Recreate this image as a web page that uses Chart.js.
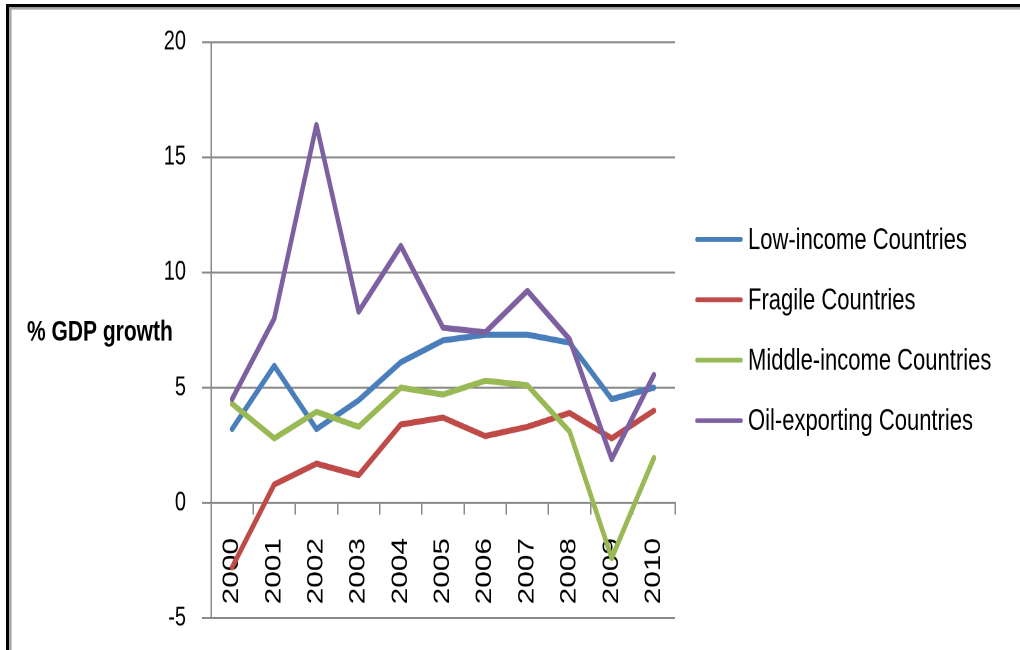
<!DOCTYPE html>
<html>
<head>
<meta charset="utf-8">
<script src="https://cdn.jsdelivr.net/npm/chart.js@4.4.1/dist/chart.umd.min.js"></script>
<style>
  html, body { margin: 0; padding: 0; background: #fff; }
  /* the source picture is a vertically stretched screenshot: the 1020x480 canvas is shown at 1020x650 */
  #gdpChart { display: block; width: 1020px; height: 650px; }
</style>
</head>
<body>
<canvas id="gdpChart" width="1020" height="480" style="width:1020px;height:650px;"></canvas>
<script>
// Data (% GDP growth)
const years = ['2000', '2001', '2002', '2003', '2004', '2005', '2006', '2007', '2008', '2009', '2010'];
const lowIncome = [3.2, 5.95, 3.2, 4.45, 6.1, 7.05, 7.3, 7.3, 6.95, 4.5, 5.0];
const fragile = [-2.8, 0.8, 1.7, 1.2, 3.4, 3.7, 2.9, 3.3, 3.9, 2.8, 4.0];
const middleIncome = [4.3, 2.8, 3.95, 3.3, 5.0, 4.7, 5.3, 5.1, 3.1, -2.4, 1.95];
const oilExporting = [4.5, 8.0, 16.4, 8.3, 11.15, 7.6, 7.4, 9.2, 7.1, 1.9, 5.55];
const seriesNames = ['Low-income Countries', 'Fragile Countries', 'Middle-income Countries', 'Oil-exporting Countries'];
const yTickValues = [-5, 0, 5, 10, 15, 20];
const yTitle = '% GDP growth';

const FONT = '"Liberation Sans", Arial, sans-serif';
const GRID = '#8a8a8a';

// black/grey frame at the top and left edge
const framePlugin = {
    id: 'frame',
    beforeDraw(chart) {
        const ctx = chart.ctx;
        ctx.save();
        ctx.fillStyle = '#000';
        ctx.fillRect(6, 3, 1014, 2.3);
        ctx.fillRect(6, 3, 3, 480);
        ctx.fillStyle = '#a8a8a8';
        ctx.fillRect(9, 5.3, 1011, 1.9);
        ctx.fillRect(9, 5.3, 2.6, 480);
        ctx.restore();
    }
};

// horizontal axis title on the left and the legend on the right
const sidePlugin = {
    id: 'sideText',
    afterDraw(chart) {
        const ctx = chart.ctx;
        const area = chart.chartArea;
        const mid = (area.top + area.bottom) / 2;
        ctx.save();
        ctx.textBaseline = 'middle';
        ctx.fillStyle = '#000';
        ctx.font = 'bold 21px ' + FONT;
        ctx.fillText(yTitle, 27, mid + 2);

        const gap = 44.6;
        const n = chart.data.datasets.length;
        ctx.font = '22px ' + FONT;
        chart.data.datasets.forEach((ds, i) => {
            const y = mid + (i - (n - 1) / 2) * gap;
            ctx.strokeStyle = ds.borderColor;
            ctx.lineWidth = 3.5;
            ctx.lineCap = 'round';
            ctx.beginPath();
            ctx.moveTo(area.right + 22, y);
            ctx.lineTo(area.right + 66, y);
            ctx.stroke();
            ctx.fillStyle = '#000';
            ctx.fillText(ds.label, area.right + 73, y + 1);
        });
        ctx.restore();
    }
};

function makeSeries(label, values, color, order) {
    return {
        label: label,
        data: values,
        borderColor: color,
        backgroundColor: color,
        borderWidth: 4.5,
        pointRadius: 0,
        tension: 0,
        borderJoinStyle: 'round',
        borderCapStyle: 'round',
        order: order
    };
}

const ctx = document.getElementById('gdpChart').getContext('2d');
new Chart(ctx, {
    type: 'line',
    data: {
        labels: years,
        datasets: [
            makeSeries(seriesNames[0], lowIncome, '#4a7ebb', 4),
            makeSeries(seriesNames[1], fragile, '#be4b48', 3),
            makeSeries(seriesNames[2], middleIncome, '#98b954', 2),
            makeSeries(seriesNames[3], oilExporting, '#7d60a0', 1)
        ]
    },
    options: {
        responsive: false,
        animation: false,
        devicePixelRatio: 2,
        layout: { padding: { top: 31, bottom: 23.6, left: 0, right: 345 } },
        plugins: {
            legend: { display: false },
            tooltip: { enabled: false }
        },
        scales: {
            y: {
                min: yTickValues[0],
                max: yTickValues[yTickValues.length - 1],
                afterFit: function (scale) {
                    scale.width = 211;
                    scale.paddingTop = 0;
                    scale.paddingBottom = 0;
                },
                ticks: {
                    stepSize: 5,
                    padding: 16,
                    color: '#000',
                    font: { family: FONT, size: 20 }
                },
                grid: { color: GRID, lineWidth: 1.5, tickLength: 9 },
                border: { color: GRID, width: 1.5 }
            },
            x: {
                position: { y: 0 },
                offset: true,
                afterFit: function (scale) {
                    scale.paddingTop = 0;
                    scale.paddingBottom = 0;
                },
                grid: {
                    drawOnChartArea: false,
                    offset: true,
                    tickLength: 8,
                    color: GRID,
                    lineWidth: 1.5
                },
                border: { color: GRID, width: 1.5 },
                ticks: {
                    autoSkip: false,
                    minRotation: 90,
                    maxRotation: 90,
                    padding: 18,
                    color: '#000',
                    font: { family: FONT, size: 22 }
                }
            }
        }
    },
    plugins: [framePlugin, sidePlugin]
});
</script>
</body>
</html>
